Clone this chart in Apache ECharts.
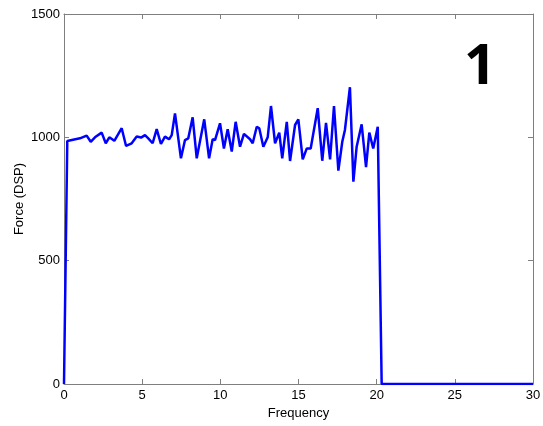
<!DOCTYPE html>
<html>
<head>
<meta charset="utf-8">
<script src="https://cdn.jsdelivr.net/npm/echarts@6/dist/echarts.min.js"></script>
<style>html,body{margin:0;padding:0;background:#fff}#c{width:543px;height:426px}</style>
</head>
<body>
<div id="c"></div>
<script>
const freq = [0, 0.21, 1.02, 1.45, 1.71, 1.98, 2.41, 2.67, 2.90, 3.22, 3.69, 3.97, 4.33, 4.65, 4.93, 5.18, 5.39, 5.67, 5.93, 6.20, 6.46, 6.72, 6.89, 7.10, 7.48, 7.74, 7.95, 8.23, 8.49, 8.97, 9.28, 9.51, 9.66, 9.98, 10.23, 10.47, 10.73, 10.98, 11.26, 11.51, 11.90, 12.07, 12.33, 12.49, 12.75, 13.03, 13.24, 13.50, 13.77, 13.96, 14.25, 14.46, 14.78, 14.99, 15.27, 15.53, 15.78, 16.23, 16.52, 16.76, 17.02, 17.27, 17.55, 17.80, 17.97, 18.29, 18.51, 18.72, 19.04, 19.32, 19.53, 19.78, 20.07, 20.32, 30];
const force = [0, 985, 996, 1007, 982, 1000, 1019, 976, 1000, 986, 1037, 965, 976, 1003, 999, 1009, 996, 976, 1033, 973, 1003, 992, 1009, 1097, 915, 989, 996, 1081, 915, 1073, 915, 992, 989, 1057, 955, 1033, 942, 1063, 962, 1014, 992, 976, 1043, 1037, 962, 1000, 1127, 976, 1019, 915, 1063, 904, 1050, 1073, 911, 955, 955, 1118, 905, 1059, 911, 1127, 865, 982, 1030, 1203, 820, 962, 1053, 879, 1019, 955, 1043, 0, 0];
const xTicks = [0, 5, 10, 15, 20, 25, 30];
const yTicks = [0, 500, 1000, 1500];
const panelLabel = '1';

const chart = echarts.init(document.getElementById('c'));
const axisCol = '#7f7f7f';
const font = 'Liberation Sans, Arial, sans-serif';
const baseX = {
  type: 'value', min: xTicks[0], max: xTicks[xTicks.length - 1], interval: xTicks[1] - xTicks[0],
  axisLine: {show: true, onZero: false, lineStyle: {color: axisCol, width: 1}},
  axisTick: {show: true, inside: true, length: 5, lineStyle: {color: axisCol}},
  splitLine: {show: false}
};
const baseY = {
  type: 'value', min: yTicks[0], max: yTicks[yTicks.length - 1], interval: yTicks[1] - yTicks[0],
  axisLine: {show: true, onZero: false, lineStyle: {color: axisCol, width: 1}},
  axisTick: {show: true, inside: true, length: 5, lineStyle: {color: axisCol}},
  splitLine: {show: false}
};
chart.setOption({
  animation: false,
  backgroundColor: '#fff',
  grid: {left: 64, right: 10, top: 14, bottom: 42, containLabel: false, outerBoundsMode: 'none'},
  graphic: [{
    type: 'text', left: 464, top: 40,
    style: {text: panelLabel, font: 'bold 56px "Open Sans", "DejaVu Sans", sans-serif', fill: '#000'}
  }],
  xAxis: [
    Object.assign({}, baseX, {
      position: 'bottom', name: 'Frequency', nameLocation: 'middle', nameGap: 23, nameMoveOverlap: false,
      nameTextStyle: {color: '#000', fontSize: 13, fontFamily: font},
      axisLabel: {color: '#000', fontSize: 13, fontFamily: font, margin: 5}
    }),
    Object.assign({}, baseX, {position: 'top', axisLabel: {show: false}})
  ],
  yAxis: [
    Object.assign({}, baseY, {
      position: 'left', name: 'Force (DSP)', nameLocation: 'middle', nameGap: 38, nameMoveOverlap: false,
      nameTextStyle: {color: '#000', fontSize: 13, fontFamily: font},
      axisLabel: {color: '#000', fontSize: 13, fontFamily: font, margin: 4, formatter: v => String(v)}
    }),
    Object.assign({}, baseY, {position: 'right', axisLabel: {show: false}})
  ],
  series: [{
    type: 'line',
    data: freq.map((f, i) => [f, force[i]]),
    showSymbol: false, symbol: 'none',
    lineStyle: {color: '#0000ff', width: 2.5},
    itemStyle: {color: '#0000ff'},
    clip: true
  }]
});
</script>
</body>
</html>
